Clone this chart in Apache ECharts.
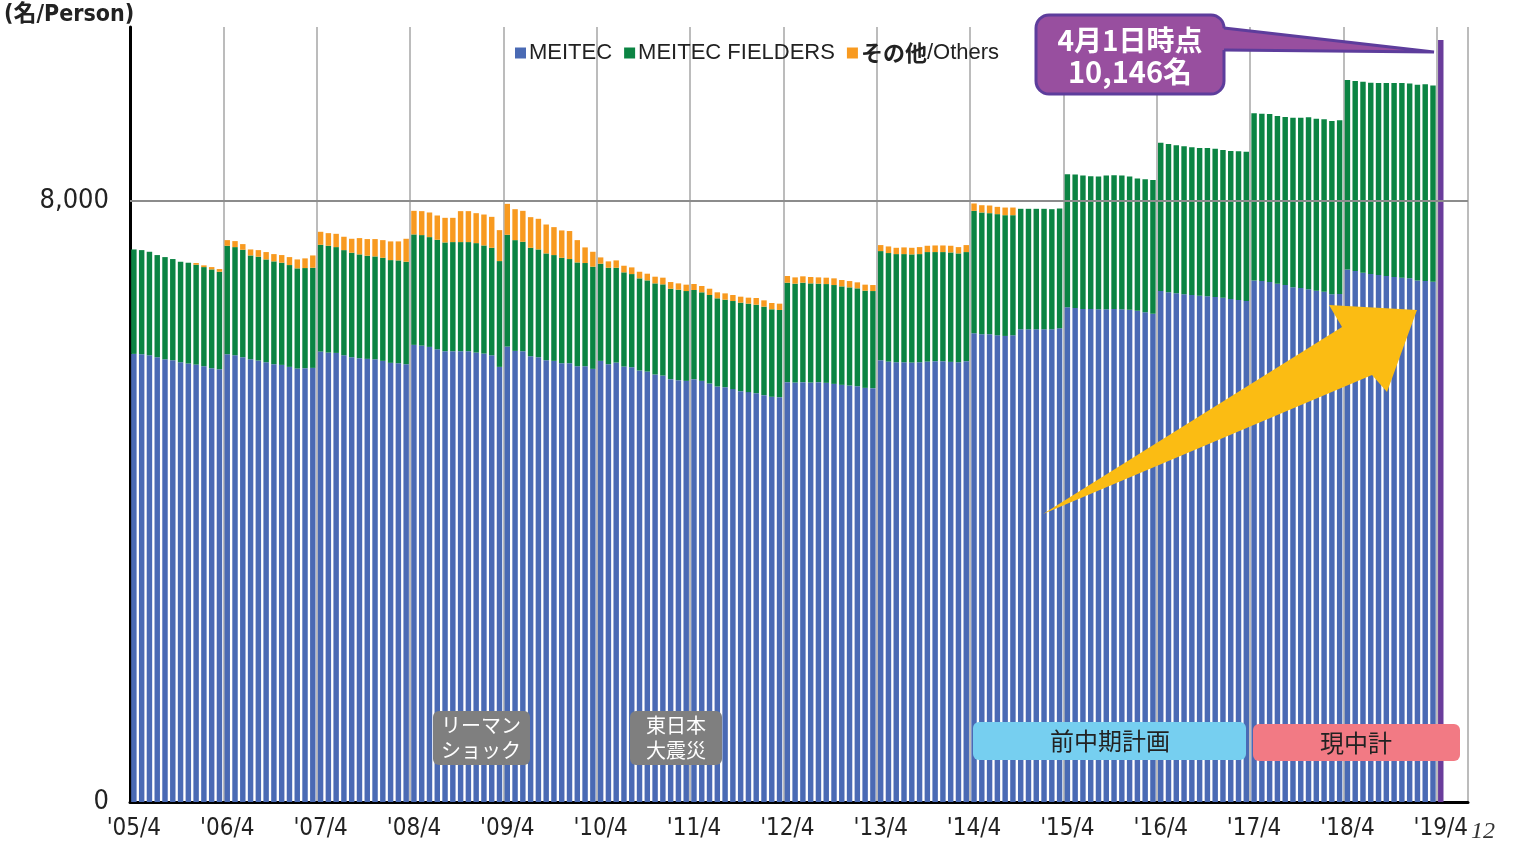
<!DOCTYPE html>
<html>
<head>
<meta charset="utf-8">
<script src="https://cdn.jsdelivr.net/npm/echarts@6/dist/echarts.min.js"></script>
<style>
  html, body { margin: 0; padding: 0; background: #fff; }
  #chart { width: 1513px; height: 841px; }
</style>
</head>
<body>
<div id="chart"></div>
<script>
// 年度ラベル（4月）
const yearLabels = ["'05/4", "'06/4", "'07/4", "'08/4", "'09/4", "'10/4", "'11/4",
  "'12/4", "'13/4", "'14/4", "'15/4", "'16/4", "'17/4", "'18/4", "'19/4"]

// MEITEC (人) 月次 '05/4 - '19/3
const meitec = [
  5967, 5963, 5949, 5923, 5896, 5883, 5856, 5839, 5825, 5803, 5777, 5763,
  5963, 5949, 5923, 5896, 5879, 5856, 5830, 5821, 5794, 5772, 5777, 5781,
  5998, 5985, 5980, 5949, 5923, 5910, 5901, 5896, 5874, 5848, 5843, 5830,
  6087, 6078, 6060, 6029, 6003, 6003, 6003, 6003, 5985, 5972, 5949, 5794,
  6065, 6007, 6003, 5936, 5923, 5883, 5874, 5843, 5843, 5803, 5803, 5768,
  5874, 5830, 5852, 5799, 5790, 5746, 5732, 5693, 5679, 5631, 5617, 5608,
  5631, 5608, 5573, 5533, 5524, 5498, 5471, 5458, 5444, 5418, 5396, 5391,
  5591, 5586, 5591, 5586, 5591, 5582, 5568, 5555, 5546, 5537, 5515, 5511,
  5883, 5865, 5856, 5856, 5852, 5856, 5865, 5870, 5870, 5861, 5856, 5870,
  6242, 6229, 6229, 6215, 6206, 6215, 6295, 6295, 6295, 6295, 6295, 6308,
  6587, 6578, 6565, 6565, 6561, 6561, 6565, 6561, 6556, 6543, 6521, 6503,
  6804, 6787, 6773, 6760, 6751, 6742, 6734, 6725, 6716, 6698, 6685, 6671,
  6946, 6937, 6924, 6902, 6884, 6853, 6844, 6827, 6809, 6796, 6760, 6764,
  7092, 7070, 7048, 7030, 7017, 7004, 6991, 6982, 6973, 6946, 6937, 6928
]

// MEITEC FIELDERS (人)
const fielders = [
  1391, 1386, 1378, 1360, 1360, 1347, 1338, 1342, 1329, 1320, 1315, 1298,
  1444, 1440, 1431, 1382, 1382, 1369, 1369, 1360, 1356, 1334, 1333, 1333,
  1422, 1422, 1409, 1400, 1391, 1382, 1373, 1369, 1373, 1368, 1369, 1364,
  1471, 1471, 1462, 1458, 1448, 1453, 1453, 1453, 1457, 1439, 1431, 1409,
  1488, 1475, 1457, 1444, 1435, 1422, 1409, 1404, 1387, 1382, 1374, 1360,
  1294, 1284, 1262, 1254, 1240, 1227, 1214, 1213, 1214, 1204, 1205, 1196,
  1187, 1179, 1178, 1174, 1165, 1173, 1178, 1178, 1178, 1178, 1165, 1161,
  1324, 1316, 1324, 1320, 1311, 1315, 1316, 1311, 1307, 1303, 1294, 1293,
  1453, 1445, 1440, 1440, 1440, 1440, 1458, 1453, 1453, 1457, 1449, 1453,
  1630, 1621, 1612, 1613, 1608, 1599, 1604, 1604, 1604, 1604, 1599, 1595,
  1772, 1777, 1777, 1768, 1767, 1781, 1781, 1781, 1772, 1759, 1772, 1781,
  1976, 1975, 1972, 1971, 1967, 1967, 1975, 1975, 1966, 1971, 1980, 1989,
  2224, 2229, 2237, 2233, 2237, 2259, 2268, 2290, 2290, 2294, 2308, 2313,
  2521, 2530, 2543, 2548, 2556, 2569, 2582, 2591, 2596, 2605, 2619, 2614
]

// その他/Others (人)
const others = [
  0, 0, 0, 0, 0, 0, 0, 0, 23, 23, 31, 36,
  75, 80, 75, 80, 88, 98, 97, 102, 106, 119, 129, 164,
  173, 168, 177, 178, 186, 217, 222, 231, 235, 249, 253, 306,
  314, 319, 328, 323, 328, 323, 412, 412, 399, 412, 412, 412,
  412, 412, 412, 408, 408, 385, 372, 364, 373, 297, 208, 199,
  84, 85, 98, 88, 89, 88, 89, 89, 89, 89, 84, 85,
  80, 84, 84, 80, 84, 80, 80, 80, 89, 84, 84, 84,
  89, 84, 85, 85, 84, 85, 89, 85, 84, 80, 80, 80,
  80, 88, 84, 89, 88, 93, 84, 88, 88, 89, 84, 93,
  98, 97, 102, 97, 102, 102, 0, 0, 0, 0, 0, 0,
  0, 0, 0, 0, 0, 0, 0, 0, 0, 0, 0, 0,
  0, 0, 0, 0, 0, 0, 0, 0, 0, 0, 0, 0,
  0, 0, 0, 0, 0, 0, 0, 0, 0, 0, 0, 0,
  0, 0, 0, 0, 0, 0, 0, 0, 0, 0, 0, 0
]

// '19/4 時点の合計
const latestTotal = 10146

const PAD = 3 // 右側の余白カテゴリ
const monthCount = meitec.length + 1

const categories = []
for (let i = 0; i < monthCount + PAD; i++) {
  categories.push(i < monthCount ? 'm' + i : '')
}
const padNull = n => new Array(n).fill(null)
const blueData = meitec.concat(padNull(1 + PAD))
const greenData = fielders.concat(padNull(1 + PAD))
const orangeData = others.map(v => (v === 0 ? null : v)).concat(padNull(1 + PAD))
const totalData = padNull(meitec.length).concat([latestTotal], padNull(PAD))

const jp = "'Noto Sans CJK JP', sans-serif"
const narrow = "'Liberation Sans Narrow', 'DejaVu Sans Condensed', 'Noto Sans CJK JP', sans-serif"

const chart = echarts.init(document.getElementById('chart'))
const barGap = '30%'

chart.setOption({
  animation: false,
  grid: { left: 130, right: 45, top: 27, bottom: 39, containLabel: false },
  legend: {
    data: ['MEITEC', 'MEITEC FIELDERS', 'その他/Others'],
    left: 510,
    top: 37,
    icon: 'rect',
    itemWidth: 11,
    itemHeight: 11,
    itemGap: 12,
    formatter: name => (name === 'その他/Others' ? '{b|その他}/Others' : name),
    textStyle: {
      fontSize: 22, color: '#222', fontFamily: "'Liberation Sans', " + jp, padding: [0, 0, 0, -2],
      rich: { b: { fontSize: 22, fontWeight: 'bold', color: '#222', fontFamily: jp } }
    }
  },
  xAxis: {
    type: 'category',
    data: categories,
    boundaryGap: true,
    axisLine: { lineStyle: { color: '#000', width: 3 } },
    axisTick: { show: false },
    axisLabel: {
      interval: (idx) => idx % 12 === 0 && idx < monthCount,
      formatter: (val, idx) => yearLabels[Math.floor(idx / 12)] || '',
      fontSize: 24,
      color: '#222',
      fontFamily: narrow,
      margin: 15
    },
    splitLine: {
      show: true,
      interval: (idx) => idx % 12 === 0 && idx > 0 && idx < monthCount,
      lineStyle: { color: '#a6a6a6', width: 1.5 }
    }
  },
  yAxis: {
    type: 'value',
    min: 0,
    max: 10320,
    interval: 8000,
    axisLine: { show: true, lineStyle: { color: '#000', width: 3 } },
    axisTick: { show: false },
    splitLine: { show: false },
    axisLabel: {
      formatter: v => (v === 0 || v === 8000 ? v.toLocaleString('en-US') : ''),
      fontSize: 27,
      color: '#222',
      fontFamily: narrow,
      margin: 21
    }
  },
  series: [
    {
      name: 'MEITEC',
      type: 'bar',
      stack: 'all',
      barCategoryGap: barGap,
      data: blueData,
      itemStyle: { color: '#4a6ab4' },
      markLine: {
        silent: true,
        symbol: 'none',
        label: { show: false },
        lineStyle: { color: '#8c8c8c', width: 2, type: 'solid' },
        data: [{ yAxis: 8000 }]
      }
    },
    {
      name: 'MEITEC FIELDERS',
      type: 'bar',
      stack: 'all',
      barCategoryGap: barGap,
      data: greenData,
      itemStyle: { color: '#0b8443' }
    },
    {
      name: 'その他/Others',
      type: 'bar',
      stack: 'all',
      barCategoryGap: barGap,
      data: orangeData,
      itemStyle: { color: '#f89a20' }
    },
    {
      name: 'total',
      type: 'bar',
      stack: 'all',
      barCategoryGap: barGap,
      data: totalData,
      itemStyle: { color: '#6a3c9b' }
    }
  ],
  graphic: [
    {
      type: 'text', left: 4, top: 4, z: 100,
      style: { text: '(名/Person)', font: "600 23px " + narrow, fill: '#222' }
    },
    // 上昇トレンドの矢印
    {
      type: 'polygon', z: 100,
      shape: { points: [[1043, 514], [1342, 327], [1329, 305], [1417, 310], [1387, 392], [1372, 375]] },
      style: { fill: '#fbbc13' }
    },
    // 吹き出し
    {
      type: 'rect', z: 100,
      shape: { x: 1036, y: 15, width: 188, height: 79, r: 13 },
      style: { fill: '#984f9f', stroke: '#5d3d9c', lineWidth: 3 }
    },
    {
      type: 'polygon', z: 101,
      shape: { points: [[1220, 28], [1434, 52], [1220, 50]] },
      style: { fill: '#984f9f' }
    },
    {
      type: 'polyline', z: 101,
      shape: { points: [[1224, 28], [1434, 52], [1224, 50]] },
      style: { stroke: '#5d3d9c', lineWidth: 3, fill: null }
    },
    {
      type: 'text', x: 1130, y: 40, z: 102,
      style: { text: '4月1日時点', font: "bold 28px " + jp, fill: '#fff', align: 'center', verticalAlign: 'middle' }
    },
    {
      type: 'text', x: 1130, y: 72, z: 102,
      style: { text: '10,146名', font: "bold 29px " + jp, fill: '#fff', align: 'center', verticalAlign: 'middle' }
    },
    // イベント
    {
      type: 'rect', z: 100,
      shape: { x: 433, y: 711, width: 97, height: 54, r: 6 },
      style: { fill: '#7f7f7f' }
    },
    {
      type: 'text', x: 481, y: 738, z: 101,
      style: { text: 'リーマン\nショック', font: "20px " + jp, lineHeight: 25, fill: '#fff', align: 'center', verticalAlign: 'middle' }
    },
    {
      type: 'rect', z: 100,
      shape: { x: 630, y: 711, width: 92, height: 54, r: 6 },
      style: { fill: '#7f7f7f' }
    },
    {
      type: 'text', x: 676, y: 738, z: 101,
      style: { text: '東日本\n大震災', font: "20px " + jp, lineHeight: 25, fill: '#fff', align: 'center', verticalAlign: 'middle' }
    },
    // 中期計画
    {
      type: 'rect', z: 100,
      shape: { x: 973, y: 722, width: 273, height: 38, r: 6 },
      style: { fill: '#76cff0' }
    },
    {
      type: 'text', x: 1110, y: 741, z: 101,
      style: { text: '前中期計画', font: "24px " + jp, fill: '#222', align: 'center', verticalAlign: 'middle' }
    },
    {
      type: 'rect', z: 100,
      shape: { x: 1253, y: 724, width: 207, height: 37, r: 6 },
      style: { fill: '#f27a84' }
    },
    {
      type: 'text', x: 1356, y: 743, z: 101,
      style: { text: '現中計', font: "24px " + jp, fill: '#222', align: 'center', verticalAlign: 'middle' }
    },
    {
      type: 'text', x: 1471, y: 820, z: 100,
      style: { text: '12', font: "italic 24px 'Liberation Serif', serif", fill: '#333' }
    }
  ]
})
</script>
</body>
</html>
